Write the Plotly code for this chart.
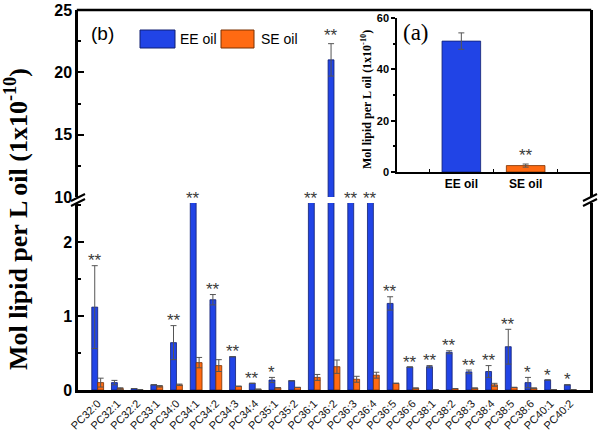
import plotly.graph_objects as go

categories = ["PC32:0", "PC32:1", "PC32:2", "PC33:1", "PC34:0", "PC34:1", "PC34:2", "PC34:3",
              "PC34:4", "PC35:1", "PC35:2", "PC36:1", "PC36:2", "PC36:3", "PC36:4", "PC36:5",
              "PC36:6", "PC38:1", "PC38:2", "PC38:3", "PC38:4", "PC38:5", "PC38:6", "PC40:1", "PC40:2"]
ee_oil = [1.12, 0.10, 0.02, 0.07, 0.64, 6.1, 1.22, 0.45, 0.09, 0.135, 0.125, 5.2, 21.0, 5.8, 5.2,
          1.17, 0.31, 0.315, 0.51, 0.245, 0.25, 0.585, 0.10, 0.135, 0.07]
ee_err = [0.56, 0.03, 0.0, 0.0, 0.23, 0.5, 0.07, 0.0, 0.0, 0.035, 0.0, 0.5, 1.3, 0.5, 0.5,
          0.09, 0.0, 0.015, 0.02, 0.025, 0.08, 0.235, 0.07, 0.0, 0.0]
se_oil = [0.10, 0.02, 0.005, 0.05, 0.07, 0.37, 0.33, 0.05, 0.01, 0.03, 0.035, 0.17, 0.315, 0.145, 0.20,
          0.09, 0.025, 0.005, 0.02, 0.025, 0.07, 0.035, 0.025, 0.005, 0.005]
se_err = [0.06, 0.01, 0.0, 0.01, 0.01, 0.07, 0.08, 0.0, 0.0, 0.0, 0.0, 0.04, 0.09, 0.04, 0.04,
          0.0, 0.0, 0.0, 0.0, 0.0, 0.02, 0.0, 0.0, 0.0, 0.0]
significance = ["**", "", "", "", "**", "**", "**", "**", "**", "*", "", "**", "**", "**", "**",
                "**", "**", "**", "**", "**", "**", "**", "*", "*", "*"]

inset_groups = ["EE oil", "SE oil"]
inset_total = [51.0, 2.5]
inset_err = [3.2, 0.6]
inset_sig = ["", "**"]

BLUE = "#2144E6"
BLUE_EDGE = "#101E70"
ORANGE = "#FF6A12"
ORANGE_EDGE = "#7A3000"
ERR = "#555555"

L, R, T, B = 78, 10, 10, 42
W, H = 600, 432
PW, PH = W - L - R, H - T - B


def px(x):
    return (x - L) / PW


def py(y):
    return (H - B - y) / PH


low_top = 203
up_bot = 197
low_dom = [0, py(low_top)]
up_dom = [py(up_bot), 1]
low_max = (H - B - low_top) / 74.0

fig = go.Figure()

for yax in ["y", "y2"]:
    fig.add_trace(go.Bar(
        x=categories, y=ee_oil, name="EE oil", yaxis=yax, xaxis="x",
        marker=dict(color=BLUE, line=dict(color=BLUE_EDGE, width=0.8)),
        error_y=dict(type="data", array=ee_err, color=ERR, thickness=1, width=3),
        showlegend=False))
    fig.add_trace(go.Bar(
        x=categories, y=se_oil, name="SE oil", yaxis=yax, xaxis="x",
        marker=dict(color=ORANGE, line=dict(color=ORANGE_EDGE, width=0.8)),
        error_y=dict(type="data", array=se_err, color=ERR, thickness=1, width=3),
        showlegend=False))

fig.add_trace(go.Bar(
    x=inset_groups, y=inset_total, xaxis="x2", yaxis="y3",
    marker=dict(color=[BLUE, ORANGE], line=dict(color=[BLUE_EDGE, ORANGE_EDGE], width=0.8)),
    error_y=dict(type="data", array=inset_err, color=ERR, thickness=1, width=3),
    showlegend=False))

annotations = []
star_font = dict(family="Arial", size=17, color="#3a3a3a")
for i, s in enumerate(significance):
    if not s:
        continue
    top = ee_oil[i] + ee_err[i]
    if top <= low_max:
        annotations.append(dict(x=i - 0.15, y=top, xref="x", yref="y", text=s, showarrow=False,
                                yanchor="middle", yshift=5, font=star_font))
    elif ee_oil[i] < 10:
        annotations.append(dict(x=i - 0.15, y=10, xref="x", yref="y2", text=s, showarrow=False,
                                yanchor="middle", yshift=-1, font=star_font))
    else:
        annotations.append(dict(x=i - 0.15, y=top, xref="x", yref="y2", text=s, showarrow=False,
                                yanchor="middle", yshift=8, font=star_font))
for i, s in enumerate(inset_sig):
    if s:
        annotations.append(dict(x=i, y=inset_total[i] + inset_err[i], xref="x2", yref="y3", text=s,
                                showarrow=False, yanchor="middle", yshift=9, font=star_font))

# y-axis titles
annotations.append(dict(x=px(16), y=py(219), xref="paper", yref="paper",
                        text="<b>Mol lipid per L oil (1x10<sup>-10</sup>)</b>", textangle=-90, showarrow=False,
                        font=dict(family="Liberation Serif", size=26, color="black"),
                        xanchor="center", yanchor="middle"))
annotations.append(dict(x=px(367), y=py(100), xref="paper", yref="paper",
                        text="<b>Mol lipid per L oil (1x10<sup>-10</sup>)</b>", textangle=-90, showarrow=False,
                        font=dict(family="Liberation Serif", size=12, color="black"),
                        xanchor="center", yanchor="middle"))
# panel labels
annotations.append(dict(x=px(89), y=py(34), xref="paper", yref="paper", text="(b)", showarrow=False,
                        xanchor="left", yanchor="middle", font=dict(family="Arial", size=19, color="black")))
annotations.append(dict(x=px(401), y=py(33), xref="paper", yref="paper", text="(a)", showarrow=False,
                        xanchor="left", yanchor="middle",
                        font=dict(family="Liberation Serif", size=23, color="black")))
# legend labels
annotations.append(dict(x=px(178), y=py(39), xref="paper", yref="paper", text="EE oil", showarrow=False,
                        xanchor="left", yanchor="middle", font=dict(family="Arial", size=14, color="black")))
annotations.append(dict(x=px(259), y=py(39), xref="paper", yref="paper", text="SE oil", showarrow=False,
                        xanchor="left", yanchor="middle", font=dict(family="Arial", size=14, color="black")))

shapes = []
# legend swatches
shapes.append(dict(type="rect", xref="paper", yref="paper", x0=px(140), x1=px(175), y0=py(48), y1=py(30),
                   fillcolor=BLUE, line=dict(color=BLUE_EDGE, width=1)))
shapes.append(dict(type="rect", xref="paper", yref="paper", x0=px(221), x1=px(254), y0=py(48), y1=py(30),
                   fillcolor=ORANGE, line=dict(color=ORANGE_EDGE, width=1)))
# top frame line
shapes.append(dict(type="line", xref="paper", yref="paper", x0=px(L - 1.2), x1=px(W - R + 1.2), y0=1, y1=1,
                   line=dict(color="black", width=2.5)))
# break marks
for xc in [L, W - R]:
    for yc in [up_bot + 0.5, low_top - 0.5]:
        shapes.append(dict(type="line", xref="paper", yref="paper",
                           x0=px(xc - 7), y0=py(yc + 3.5), x1=px(xc + 7), y1=py(yc - 3.5),
                           line=dict(color="black", width=2)))

axis_font = dict(family="Arial", size=16, color="black")
fig.update_layout(
    width=W, height=H,
    margin=dict(l=L, r=R, t=T, b=B, autoexpand=False),
    paper_bgcolor="white", plot_bgcolor="white",
    barmode="group", bargap=0.4, bargroupgap=0,
    showlegend=False,
    xaxis=dict(domain=[0, 1], range=[-1, len(categories)], anchor="y", type="category", automargin=False,
               showline=True, linecolor="black", linewidth=2.5, ticks="", showgrid=False,
               tickangle=-45, tickfont=dict(family="Arial", size=11, color="#111"), zeroline=False),
    yaxis=dict(domain=low_dom, range=[0, low_max], anchor="x", showline=True, mirror=True, automargin=False,
               linecolor="black", linewidth=2.5, ticks="inside", ticklen=6, tickwidth=2,
               tickcolor="black", dtick=1, tick0=0, showgrid=False, zeroline=False,
               tickfont=axis_font, tickprefix="<b>", ticksuffix="</b>",
               minor=dict(ticks="inside", ticklen=3, tickwidth=2, dtick=0.5, tick0=0, tickcolor="black")),
    yaxis2=dict(domain=up_dom, range=[10, 25], anchor="x", showline=True, mirror=True, automargin=False,
                linecolor="black", linewidth=2.5, ticks="inside", ticklen=6, tickwidth=2,
                tickcolor="black", dtick=5, tick0=0, showgrid=False, zeroline=False,
                tickfont=axis_font, tickprefix="<b>", ticksuffix="</b>",
                minor=dict(ticks="inside", ticklen=3, tickwidth=2, dtick=2.5, tick0=0, tickcolor="black")),
    xaxis2=dict(domain=[px(397), 1], range=[-1, 2], anchor="y3", type="category", automargin=False,
                showline=True, linecolor="black", linewidth=1.5, ticks="inside", ticklen=3,
                tickson="boundaries", tickcolor="black", showgrid=False, zeroline=False,
                tickfont=dict(family="Arial", size=12, color="black"), tickprefix="<b>", ticksuffix="</b>"),
    yaxis3=dict(domain=[py(172), py(18)], range=[0, 60], anchor="x2", showline=True, automargin=False,
                linecolor="black", linewidth=1.5, ticks="outside", ticklen=4, tickwidth=1.5,
                tickcolor="black", dtick=20, showgrid=False, zeroline=False,
                tickfont=dict(family="Arial", size=11, color="black"), tickprefix="<b>", ticksuffix="</b>",
                minor=dict(ticks="outside", ticklen=2, dtick=10, tickcolor="black")),
    annotations=annotations,
    shapes=shapes,
)

fig.write_html("out.html", config={"displayModeBar": False},
               post_script="document.body.style.margin='0px';document.body.style.padding='0px';")
